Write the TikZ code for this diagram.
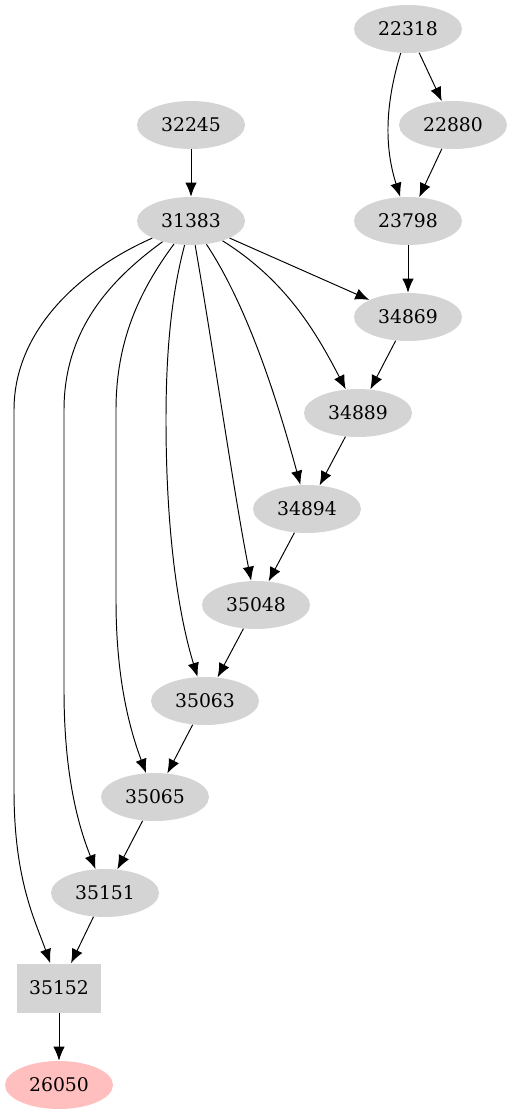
\documentclass[tikz,border=0pt]{standalone}
\usepackage{fontspec}
\setmainfont{DejaVu Serif}
\usetikzlibrary{arrows.meta,shapes.geometric}
\tikzset{
  jobnode/.style={ellipse, fill=black!17, minimum width=108*0.02cm, minimum height=48*0.02cm, inner sep=0pt, font=\fontsize{10.7}{12}\selectfont},
  boxnode/.style={rectangle, fill=black!17, minimum width=84*0.02cm, minimum height=49*0.02cm, inner sep=0pt, font=\fontsize{10.7}{12}\selectfont},
  endnode/.style={jobnode, fill=pink},
  edge/.style={-{Latex[length=8pt,width=6.5pt]}, black, line width=0.55pt}
}
\begin{document}
\begin{tikzpicture}[x=0.02cm, y=-0.02cm]
  \useasboundingbox (0,0) rectangle (513,1115);
  % upper nodes
  \node[jobnode] (n22318) at (408,29) {22318};
  \node[jobnode] (n32245) at (191,125) {32245};
  \node[jobnode] (n22880) at (453,125) {22880};
  \node[jobnode] (n31383) at (191,221) {31383};
  \node[jobnode] (n23798) at (408,221) {23798};
  % the chain going down to the left
  \node[jobnode] (n34869) at (408,317) {34869};
  \node[jobnode] (n34889) at (358,413) {34889};
  \node[jobnode] (n34894) at (307,509) {34894};
  \node[jobnode] (n35048) at (256,605) {35048};
  \node[jobnode] (n35063) at (205,701) {35063};
  \node[jobnode] (n35065) at (155,797) {35065};
  \node[jobnode] (n35151) at (105,893) {35151};
  \node[boxnode] (n35152) at (59,988) {35152};
  \node[endnode] (n26050) at (59,1085) {26050};

  \draw[edge] (n22318) -- (n22880);
  \draw[edge] (n22318) .. controls (388,95) and (382,140) .. (n23798);
  \draw[edge] (n22880) -- (n23798);
  \draw[edge] (n32245) -- (n31383);
  \draw[edge] (n23798) -- (n34869);
  \draw[edge] (n31383) -- (n34869);
  \draw[edge] (n31383) .. controls (285,280) and (315,330) .. (n34889);
  \draw[edge] (n31383) .. controls (250,310) and (280,410) .. (n34894);
  \draw[edge] (n31383) .. controls (215,360) and (235,500) .. (n35048);
  \draw[edge] (n31383) .. controls (170,300) and (166,360) .. (166,420) .. controls (166,540) and (180,620) .. (n35063);
  \draw[edge] (n31383) .. controls (140,290) and (116,340) .. (116,410) -- (116,600) .. controls (116,680) and (130,730) .. (n35065);
  \draw[edge] (n31383) .. controls (110,280) and (64,330) .. (64,410) -- (64,690) .. controls (64,780) and (80,830) .. (n35151);
  \draw[edge] (n31383) .. controls (80,270) and (14,330) .. (14,410) -- (14,790) .. controls (14,880) and (35,920) .. (n35152);
  % straight chain edges
  \foreach \a/\b in {34869/34889, 34889/34894, 34894/35048, 35048/35063,
                     35063/35065, 35065/35151, 35151/35152, 35152/26050}
    \draw[edge] (n\a) -- (n\b);
\end{tikzpicture}
\end{document}
